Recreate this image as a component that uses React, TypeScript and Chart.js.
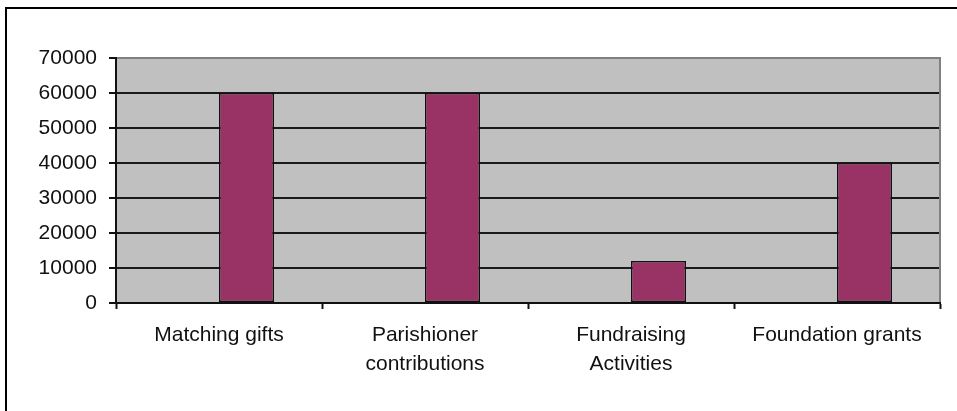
import React, { useEffect, useRef } from "react";
import { Chart, registerables } from "chart.js";

Chart.register(...registerables);

const categories: string[][] = [
  ["Matching gifts"],
  ["Parishioner", "contributions"],
  ["Fundraising", "Activities"],
  ["Foundation grants"],
];
const emptySeries: (number | null)[] = [null, null, null, null];
const amounts: number[] = [60000, 60000, 12000, 40000];
const yMin = 0;
const yMax = 70000;
const yStep = 10000;

const W = 957;
const H = 411;

const framePlugin = {
  id: "framePlugin",
  beforeDraw(chart: any) {
    const { ctx, chartArea } = chart;
    ctx.save();
    ctx.fillStyle = "#ffffff";
    ctx.fillRect(0, 0, W, H);
    ctx.fillStyle = "#c0c0c0";
    ctx.fillRect(chartArea.left, chartArea.top, chartArea.right - chartArea.left, chartArea.bottom - chartArea.top);
    ctx.fillStyle = "#000000";
    ctx.fillRect(5, 7, 2, H);
    ctx.fillRect(5, 7, W, 2);
    ctx.restore();
  },
  afterDatasetsDraw(chart: any) {
    const { ctx, chartArea } = chart;
    ctx.save();
    ctx.fillStyle = "#808080";
    ctx.fillRect(Math.round(chartArea.right) - 1, chartArea.top - 1, 2, chartArea.bottom - chartArea.top + 1);
    ctx.restore();
  },
};

export default function App() {
  const ref = useRef<HTMLCanvasElement>(null);
  useEffect(() => {
    if (!ref.current) return;
    const font = { family: "'Liberation Sans', Arial, sans-serif", size: 21 };
    const chart = new Chart(ref.current, {
      type: "bar",
      data: {
        labels: categories,
        datasets: [
          {
            data: emptySeries,
            backgroundColor: "#993366",
            borderColor: "#111111",
            borderWidth: 1.5,
            borderSkipped: false,
          },
          {
            data: amounts,
            backgroundColor: "#993366",
            borderColor: "#111111",
            borderWidth: 1.5,
            borderSkipped: false,
          },
        ],
      },
      options: {
        responsive: false,
        animation: false,
        devicePixelRatio: 1,
        layout: { padding: { left: 0, top: 58, right: 17, bottom: 0 } },
        plugins: { legend: { display: false }, tooltip: { enabled: false } },
        datasets: { bar: { categoryPercentage: 0.534, barPercentage: 1 } },
        scales: {
          x: {
            offset: true,
            grid: {
              offset: true,
              drawOnChartArea: false,
              drawTicks: true,
              tickLength: 6,
              tickColor: "#111111",
              tickWidth: 2,
            },
            border: { color: "#111111", width: 2, z: 1 },
            ticks: {
              color: "#111111",
              font: { ...font, lineHeight: 29 / 21 },
              padding: 12,
              maxRotation: 0,
              autoSkip: false,
            },
            afterFit(scale: any) {
              scale.height = 108;
            },
          },
          y: {
            min: yMin,
            max: yMax,
            grid: {
              color: (c: any) => (c.tick && c.tick.value === yMax ? "#808080" : "#1a1a1a"),
              tickColor: "#111111",
              tickLength: 7,
              lineWidth: 2,
              tickWidth: 2,
            },
            border: { color: "#111111", width: 2 },
            ticks: {
              stepSize: yStep,
              color: "#111111",
              font,
              padding: 12,
              callback: (v: any) => String(v),
            },
            afterFit(scale: any) {
              scale.width = 116;
            },
          },
        },
      },
      plugins: [framePlugin],
    });
    return () => chart.destroy();
  }, []);
  return (
    <div style={{ position: "fixed", left: 0, top: 0, width: W, height: H, background: "#fff" }}>
      <canvas ref={ref} width={W} height={H} style={{ width: W, height: H, display: "block" }} />
    </div>
  );
}
